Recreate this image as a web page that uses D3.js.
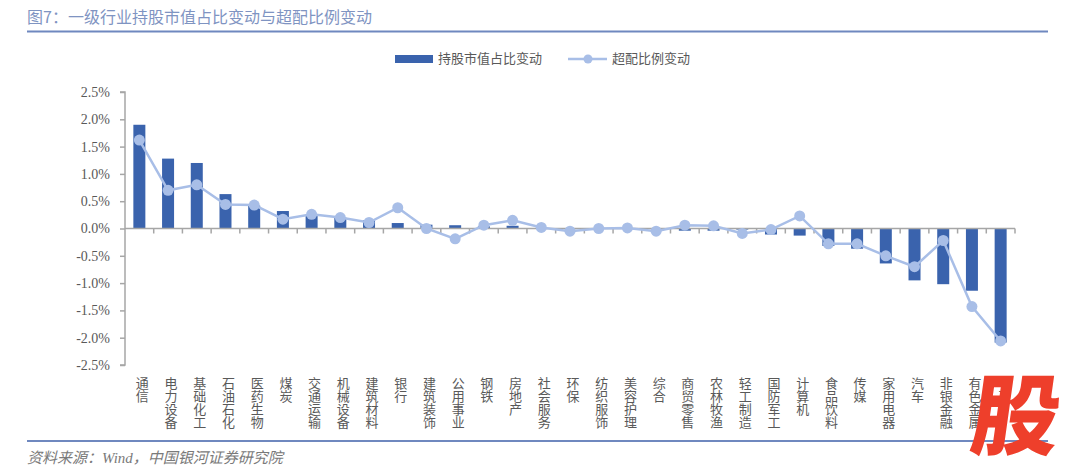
<!DOCTYPE html>
<html><head><meta charset="utf-8">
<script src="https://cdn.jsdelivr.net/npm/d3@7"></script>
<style>
html,body{margin:0;padding:0;background:#fff;}
svg{display:block;}
</style></head>
<body>
<svg id="c" width="1080" height="473"></svg>
<script>
const categories = ["通信","电力设备","基础化工","石油石化","医药生物","煤炭","交通运输","机械设备","建筑材料","银行","建筑装饰","公用事业","钢铁","房地产","社会服务","环保","纺织服饰","美容护理","综合","商贸零售","农林牧渔","轻工制造","国防军工","计算机","食品饮料","传媒","家用电器","汽车","非银金融","有色金属","电子"];
const holdingChange = [1.90,1.28,1.20,0.63,0.42,0.32,0.25,0.20,0.15,0.10,0.07,0.06,0.04,0.05,0.01,-0.01,0.00,0.00,0.00,-0.04,-0.04,-0.02,-0.11,-0.13,-0.32,-0.37,-0.64,-0.95,-1.02,-1.14,-2.09];
const overweightChange = [1.62,0.70,0.80,0.44,0.43,0.17,0.26,0.20,0.11,0.38,0.00,-0.19,0.06,0.15,0.02,-0.05,0.00,0.01,-0.05,0.06,0.05,-0.09,-0.02,0.23,-0.28,-0.28,-0.50,-0.70,-0.22,-1.43,-2.06];
const yTicks = [2.5,2.0,1.5,1.0,0.5,0.0,-0.5,-1.0,-1.5,-2.0,-2.5];
const legendLabels = ["持股市值占比变动","超配比例变动"];
const titleText = "图7：一级行业持股市值占比变动与超配比例变动";
const sourceText = "资料来源：Wind，中国银河证券研究院";

const svg = d3.select("#c");
const barColor = "#3a63ad", lineColor = "#a8bee7", axisColor = "#a6a6a6", textColor = "#595959";
const cjk = "'Noto Sans CJK SC', 'Noto Sans', sans-serif";

// title + rules
svg.append("text").attr("x", 27).attr("y", 23).attr("font-family", cjk).attr("font-size", 16)
  .attr("fill", "#7f94c2").text(titleText);
svg.append("line").attr("x1", 27).attr("x2", 1048).attr("y1", 31.5).attr("y2", 31.5)
  .attr("stroke", "#6f88bf").attr("stroke-width", 2);
svg.append("line").attr("x1", 27).attr("x2", 1048).attr("y1", 441).attr("y2", 441)
  .attr("stroke", "#6f88bf").attr("stroke-width", 2);
svg.append("text").attr("x", 27).attr("y", 463).attr("font-family", "'Liberation Serif', " + cjk)
  .attr("font-style", "italic").attr("font-size", 15).attr("fill", "#7a7a7a").text(sourceText);

// scales
const x = d3.scaleBand().domain(categories).range([125, 1015]);
const y = d3.scaleLinear().domain([-2.5, 2.5]).range([365, 92]);
const bw = 12;

// y axis
const yAxis = svg.append("g").attr("transform", "translate(125,0)")
  .call(d3.axisLeft(y).tickValues(yTicks).tickSize(5).tickPadding(10).tickFormat(d => d.toFixed(1) + "%"));
yAxis.selectAll("path,line").attr("stroke", axisColor).attr("stroke-width", 1.5);
yAxis.select(".domain").attr("d", `M-5,${y(2.5)}H0V${y(-2.5)}H-5`);
yAxis.selectAll("text").attr("font-family", "'Liberation Serif', serif").attr("font-size", 14).attr("fill", textColor);

// bars
svg.append("g").selectAll("rect").data(categories).join("rect")
  .attr("x", d => x(d) + x.bandwidth() / 2 - bw / 2)
  .attr("width", bw)
  .attr("y", (d, i) => y(Math.max(0, holdingChange[i])))
  .attr("height", (d, i) => Math.abs(y(holdingChange[i]) - y(0)))
  .attr("fill", barColor);

// x axis at zero
const xAxis = svg.append("g").attr("transform", `translate(0,${y(0)})`);
xAxis.append("line").attr("x1", 125).attr("x2", 1015).attr("stroke", axisColor).attr("stroke-width", 1.5);
xAxis.selectAll("line.t").data(categories.map((d) => x(d)).concat([1015]).slice(1)).join("line")
  .attr("class", "t").attr("x1", d => d).attr("x2", d => d).attr("y1", 0).attr("y2", 5)
  .attr("stroke", axisColor).attr("stroke-width", 1.5);

// x labels vertical
svg.append("g").selectAll("text").data(categories).join("text")
  .attr("x", d => x(d) + x.bandwidth() / 2 + 3)
  .attr("y", 377)
  .attr("font-family", cjk).attr("font-size", 13).attr("fill", textColor)
  .style("writing-mode", "vertical-rl")
  .attr("text-anchor", "start")
  .text(d => d);

// line + dots
const line = d3.line().x((d, i) => x(categories[i]) + x.bandwidth() / 2).y(d => y(d));
svg.append("path").datum(overweightChange).attr("d", line).attr("fill", "none")
  .attr("stroke", lineColor).attr("stroke-width", 2.5);
svg.append("g").selectAll("circle").data(overweightChange).join("circle")
  .attr("cx", (d, i) => x(categories[i]) + x.bandwidth() / 2).attr("cy", d => y(d)).attr("r", 5.5)
  .attr("fill", lineColor);

// legend
const lg = svg.append("g");
lg.append("rect").attr("x", 395).attr("y", 55).attr("width", 38).attr("height", 8).attr("fill", barColor);
lg.append("text").attr("x", 438).attr("y", 63).attr("font-family", cjk).attr("font-size", 13).attr("fill", textColor).text(legendLabels[0]);
lg.append("line").attr("x1", 568).attr("x2", 607).attr("y1", 59).attr("y2", 59).attr("stroke", lineColor).attr("stroke-width", 2.5);
lg.append("circle").attr("cx", 588).attr("cy", 59).attr("r", 4.5).attr("fill", lineColor);
lg.append("text").attr("x", 612).attr("y", 63).attr("font-family", cjk).attr("font-size", 13).attr("fill", textColor).text(legendLabels[1]);

// watermark
svg.append("g").attr("transform", "translate(1012,448) skewX(-8)")
  .append("text").attr("x", 0).attr("y", 0).attr("text-anchor", "middle")
  .attr("font-family", cjk).attr("font-weight", 900).attr("font-size", 88)
  .attr("fill", "#ee3f2b").text("股");
</script>
</body></html>
